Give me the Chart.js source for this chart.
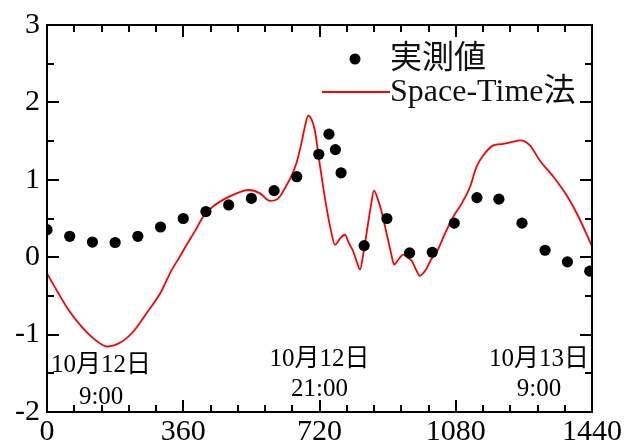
<!DOCTYPE html>
<html>
<head>
<meta charset="utf-8">
<script src="https://cdn.jsdelivr.net/npm/chart.js@4/dist/chart.umd.min.js"></script>
<style>
  html, body { margin: 0; padding: 0; background: #fff; }
  #wrap { width: 637px; height: 447px; }
</style>
</head>
<body>
<div id="wrap"><canvas id="c" width="637" height="447"></canvas></div>
<script>
// ---- data ----
const measuredX = [0, 60, 120, 180, 240, 300, 360, 420, 480, 540, 600, 660, 718, 745, 762, 777, 838, 898, 958, 1018, 1076, 1136, 1194, 1255, 1316, 1375, 1434];
const measuredY = [0.355, 0.27, 0.196, 0.19, 0.27, 0.39, 0.50, 0.59, 0.675, 0.76, 0.86, 1.04, 1.33, 1.59, 1.39, 1.09, 0.15, 0.50, 0.055, 0.064, 0.44, 0.77, 0.75, 0.44, 0.09, -0.06, -0.18];

const stX = [0, 27, 58, 89, 124, 159, 195, 230, 265, 300, 329, 350, 369, 390, 413, 435, 457, 480, 501, 532, 563, 589, 611, 633, 647, 660, 673, 682, 690, 699, 708, 715, 721, 730, 739, 750, 761, 774, 787, 798, 809, 818, 827, 836, 845, 855, 864, 874, 884, 893, 902, 910, 917, 930, 941, 952, 964, 975, 985, 1000, 1015, 1030, 1052, 1074, 1096, 1118, 1135, 1153, 1179, 1206, 1230, 1250, 1276, 1302, 1338, 1373, 1404, 1440];
const stY = [-0.21, -0.44, -0.69, -0.885, -1.055, -1.154, -1.10, -0.95, -0.71, -0.46, -0.17, 0.0, 0.16, 0.33, 0.526, 0.64, 0.718, 0.78, 0.825, 0.868, 0.825, 0.727, 0.76, 0.93, 1.06, 1.23, 1.49, 1.70, 1.83, 1.78, 1.63, 1.40, 1.19, 0.90, 0.63, 0.35, 0.16, 0.24, 0.29, 0.18, 0.077, -0.05, -0.158, 0.05, 0.33, 0.64, 0.86, 0.75, 0.59, 0.40, 0.205, 0.03, -0.094, -0.02, 0.034, 0.00, -0.05, -0.16, -0.24, -0.17, -0.03, 0.07, 0.31, 0.526, 0.696, 0.91, 1.17, 1.317, 1.445, 1.465, 1.49, 1.509, 1.445, 1.25, 1.04, 0.80, 0.526, 0.14];

const xTicks = [0, 360, 720, 1080, 1440];
const yTicks = [-2, -1, 0, 1, 2, 3];
const xMinorStep = 72;
const yMinorStep = 0.5;

const seriesLabels = ['実測値', 'Space-Time法'];

const dateLabels = ['10月12日', '10月12日', '10月13日'];
const timeLabels = ['9:00', '21:00', '9:00'];
const dateLabelX = [143, 720, 1300];
const dateLabelY = [-1.40, -1.32, -1.32];
const timeLabelY = [-1.81, -1.71, -1.71];

// ---- styling ----
const SERIF = '"Liberation Serif", "Times New Roman", "Noto Sans CJK JP", serif';

const boxTicks = {
  id: 'boxTicks',
  afterDraw(chart) {
    const ctx = chart.ctx, a = chart.chartArea;
    const xs = chart.scales.x, ys = chart.scales.y;
    ctx.save();
    ctx.strokeStyle = '#000';
    ctx.lineWidth = 2;
    ctx.lineCap = 'butt';
    ctx.strokeRect(a.left, a.top, a.right - a.left, a.bottom - a.top);
    const majL = 12, minL = 7;
    ctx.beginPath();
    for (let v = xs.min; v <= xs.max + 1e-6; v += xMinorStep) {
      const px = Math.round(xs.getPixelForValue(v));
      const L = xTicks.includes(v) ? majL : minL;
      ctx.moveTo(px, a.bottom); ctx.lineTo(px, a.bottom - L);
      ctx.moveTo(px, a.top); ctx.lineTo(px, a.top + L);
    }
    for (let v = ys.min; v <= ys.max + 1e-6; v += yMinorStep) {
      const py = Math.round(ys.getPixelForValue(v));
      const L = Number.isInteger(v) ? majL : minL;
      ctx.moveTo(a.left, py); ctx.lineTo(a.left + L, py);
      ctx.moveTo(a.right, py); ctx.lineTo(a.right - L, py);
    }
    ctx.stroke();

    // date / time annotations
    ctx.fillStyle = '#000';
    ctx.font = '25px ' + SERIF;
    ctx.textAlign = 'center';
    ctx.textBaseline = 'middle';
    for (let i = 0; i < dateLabels.length; i++) {
      const px = xs.getPixelForValue(dateLabelX[i]);
      ctx.fillText(dateLabels[i], px, ys.getPixelForValue(dateLabelY[i]));
      ctx.fillText(timeLabels[i], px, ys.getPixelForValue(timeLabelY[i]));
    }

    // legend
    const lx = a.left + 308, ly1 = a.top + 34, ly2 = a.top + 67;
    ctx.beginPath();
    ctx.arc(lx, ly1, 5.5, 0, Math.PI * 2);
    ctx.fill();
    ctx.strokeStyle = '#ff0000';
    ctx.lineWidth = 2;
    ctx.beginPath();
    ctx.moveTo(a.left + 275, ly2); ctx.lineTo(a.left + 343, ly2);
    ctx.stroke();
    ctx.font = '32px ' + SERIF;
    ctx.textAlign = 'left';
    ctx.textBaseline = 'middle';
    ctx.fillStyle = '#111';
    ctx.fillText(chart.data.datasets[0].label, a.left + 343, ly1 + 1);
    ctx.fillText(chart.data.datasets[1].label, a.left + 343, ly2 + 1);
    ctx.restore();
  }
};

new Chart(document.getElementById('c'), {
  type: 'scatter',
  data: {
    datasets: [
      {
        label: seriesLabels[0],
        data: measuredX.map((x, i) => ({ x, y: measuredY[i] })),
        showLine: false,
        pointRadius: 5.6,
        pointBackgroundColor: '#000',
        pointBorderWidth: 0,
        pointBorderColor: '#000'
      },
      {
        label: seriesLabels[1],
        data: stX.map((x, i) => ({ x, y: stY[i] })),
        showLine: true,
        pointRadius: 0,
        borderColor: '#ff0000',
        borderWidth: 1.8,
        cubicInterpolationMode: 'monotone',
        fill: false
      }
    ]
  },
  options: {
    responsive: false,
    animation: false,
    events: [],
    layout: { padding: { top: 22, right: 45, left: 0, bottom: 0 } },
    plugins: { legend: { display: false }, tooltip: { enabled: false } },
    scales: {
      x: {
        type: 'linear', min: 0, max: 1440,
        grid: { display: false, drawTicks: false },
        border: { display: false },
        afterBuildTicks: s => { s.ticks = xTicks.map(v => ({ value: v })); },
        afterFit: s => { s.height = 35; },
        ticks: { color: '#000', padding: 2, font: { family: SERIF, size: 30 }, maxRotation: 0, autoSkip: false,
                 callback: v => String(v) }
      },
      y: {
        type: 'linear', min: -2, max: 3,
        grid: { display: false, drawTicks: false },
        border: { display: false },
        afterBuildTicks: s => { s.ticks = yTicks.map(v => ({ value: v })); },
        afterFit: s => { s.width = 47; },
        ticks: { color: '#000', padding: 7, font: { family: SERIF, size: 30 }, callback: v => String(v) }
      }
    }
  },
  plugins: [boxTicks]
});
</script>
</body>
</html>
